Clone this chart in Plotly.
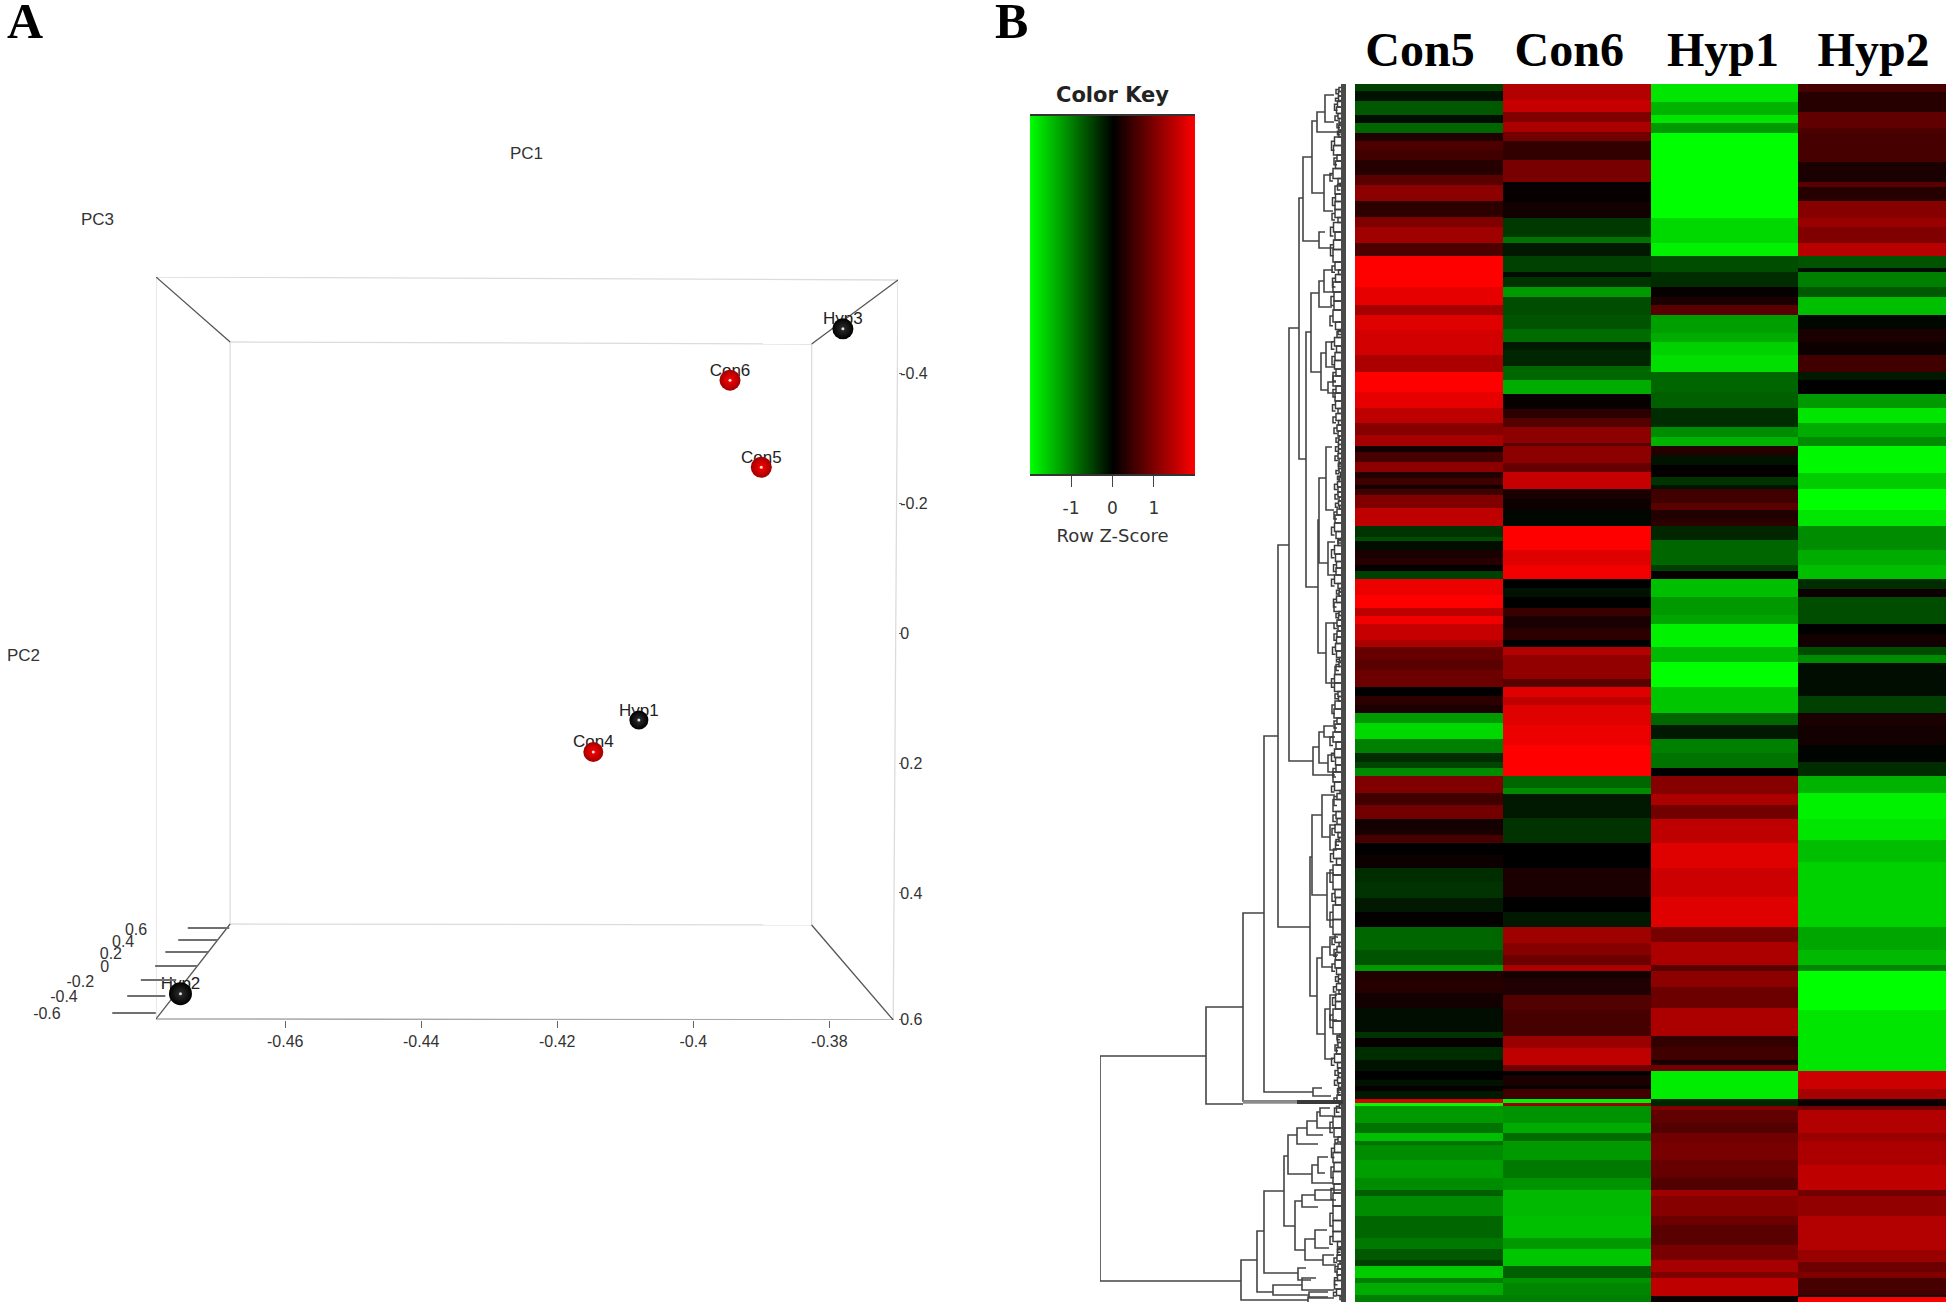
import bisect
import plotly.graph_objects as go

W, H = 1946, 1305

# ---------- Panel A: PCA ----------
sample_names = ["Hyp3", "Con6", "Con5", "Hyp1", "Con4", "Hyp2"]
pc1_values = [-0.378, -0.3946, -0.390, -0.408, -0.4147, -0.4754]
pc2_values = [-0.468, -0.389, -0.255, 0.134, 0.183, 0.555]
sample_rims = ["#000000", "#a00000", "#a00000", "#000000", "#a00000", "#000000"]
sample_glows = ["#303030", "#ff0000", "#ff0000", "#303030", "#ff0000", "#303030"]
sample_sizes = [21, 21, 21, 19, 20, 23]

pc1_ticks = [-0.46, -0.44, -0.42, -0.4, -0.38]
pc1_ticktext = ["-0.46", "-0.44", "-0.42", "-0.4", "-0.38"]
pc2_ticks = [-0.4, -0.2, 0, 0.2, 0.4, 0.595]
pc2_ticktext = ["-0.4", "-0.2", "0", "0.2", "0.4", "0.6"]
pc3_ticktext = ["-0.6", "-0.4", "-0.2", "0", "0.2", "0.4", "0.6"]
pc3_tick_start = [-.4854, -.4832, -.4812, -.4791, -.4776, -.4757, -.4743]
pc3_tick_end = [-.4790, -.4776, -.4760, -.4729, -.4713, -.4699, -.4682]
pc3_tick_y = [.5846, .5585, .5338, .5123, .4908, .4723, .4538]
pc3_label_x = [-.495, -.4925, -.4901, -.4865, -.4856, -.4838, -.4819]
pc3_label_y = [.5877, .5615, .5385, .5154, .4954, .4769, .4585]

# box corners in PC1 / PC2 units
out_l, out_r_top, out_r_bot = -.4790, -.3699, -.3706
in_l, in_r = -.4681, -.3826
out_top_l, out_top_r, in_top_l, in_top_r = -.5477, -.5431, -.4477, -.4446
in_bot_l, in_bot_r, out_bot_l, out_bot_r = .4477, .4492, .5938, .5954

# ---------- Panel B: heatmap, each column as (band end, z) ----------
columns = ["Con5", "Con6", "Hyp1", "Hyp2"]
column_ticks = [0.44, 1.45, 2.49, 3.51]
row_start = 84

con5_end = [91,101,115,123,133,141,150,160,175,185,201,217,227,243,256,287,305,315,330,355,372,392,408,423,435,446,
            452,462,472,478,485,489,495,508,526,537,541,550,558,565,571,579,595,608,616,624,640,647,660,670,687,696,
            705,713,723,739,753,762,768,776,793,805,819,830,835,843,855,868,882,898,912,927,950,965,971,980,993,1008,
            1032,1038,1047,1060,1071,1080,1086,1091,1099,1103,1106,1123,1133,1141,1145,1160,1178,1190,1196,1216,1238,
            1249,1260,1266,1278,1283,1295,1302]
con5_z = [-.5,-.15,-.7,-.1,-.8,.25,.6,.5,.3,.7,1.1,.35,1.0,1.25,.6,2.0,1.8,1.3,1.75,1.65,1.35,2.0,1.8,1.5,1.05,1.3,
          .15,.55,1.1,.25,.5,.15,.5,1.0,1.5,-.4,-.6,-.1,.2,.3,.05,-.5,1.85,2.0,1.5,1.9,1.55,1.35,.8,.7,.85,0,
          .35,.2,-1.2,-1.7,-1.0,-.35,-.55,-1.1,1.0,.5,.9,.15,.2,.55,0,.1,-.35,-.4,-.2,.02,-.8,-.65,-1.2,.25,.3,.15,
          -.1,-.4,.05,-.35,-.15,0,-.15,.05,-.2,1.7,-2.0,-1.2,-.9,-1.5,-.9,-1.1,-1.25,-1.1,-.75,-1.1,-.8,
          -.95,-.7,-.5,-1.6,-1.0,-1.35,-1.0]

con6_end = [100,112,122,132,141,160,182,202,218,237,243,256,272,277,287,297,315,329,342,350,366,380,394,409,418,427,
            443,446,463,472,489,499,510,526,550,565,579,588,597,608,616,628,640,647,655,679,687,697,705,725,745,776,
            788,794,805,818,843,868,897,912,927,943,955,965,971,978,995,1010,1036,1048,1065,1071,1075,1086,1089,1099,
            1103,1106,1123,1133,1141,1160,1178,1190,1216,1238,1249,1266,1278,1283,1295,1302]
con6_z = [1.4,1.55,1.0,1.35,.9,.4,.95,.05,.15,-.45,-.9,-.2,-.5,-.1,-.4,-1.2,-.6,-.65,-.85,-.2,-.3,-.8,-1.35,.05,.35,.65,
          1.1,.7,1.1,.8,1.55,.2,.1,-.05,2.0,1.75,1.9,0,-.15,0,.45,.2,.35,0,1.4,1.15,.7,1.75,1.5,1.75,1.85,2.0,
          -.8,-1.1,-.2,-.2,-.4,0,.2,0,-.2,1.25,1.05,.85,1.35,.15,.25,.65,.55,1.2,1.5,.9,0,.2,.05,.5,
          -1.9,1.2,-1.15,-1.35,-.85,-1.2,-.95,-1.15,-1.45,-1.5,-1.2,-1.55,-.75,-1.15,-1.05,-1.0]

hyp1_end = [102,115,123,133,218,243,256,272,287,297,305,315,333,342,355,372,392,408,427,437,446,
            455,465,477,485,489,503,510,520,526,540,565,571,579,597,615,624,647,662,687,713,725,739,753,768,776,
            794,805,819,843,868,897,927,942,965,971,987,1008,1036,1047,1060,1065,1071,1099,1106,1110,1123,1133,1143,
            1160,1178,1190,1196,1216,1225,1245,1260,1272,1278,1296,1302]
hyp1_z = [-1.8,-1.4,-1.8,-1.2,-2.0,-1.7,-1.9,-.6,-.35,.05,.2,.7,-1.25,-1.35,-1.65,-1.75,-.8,-.75,-.35,-1.1,-1.4,
          .3,-.15,.03,-.4,-.15,.5,.7,.25,.35,-.3,-.8,-.5,.05,-1.5,-1.2,-1.3,-1.9,-1.45,-2.0,-1.55,-.8,-.2,-1.0,-.9,0,
          1.05,1.35,.9,1.5,1.75,1.6,1.75,.95,1.35,.7,1.1,.85,1.35,.4,.5,.2,.9,-1.85,-.3,1.0,.75,.65,.9,
          .95,.8,.65,1.25,1.05,.85,.7,.95,1.3,1.0,1.5,.1]

hyp2_end = [92,112,128,133,162,182,187,201,218,227,243,256,268,272,287,297,315,329,342,355,372,380,394,408,423,437,446,
            473,489,510,526,550,565,579,589,597,624,634,647,655,663,696,713,725,745,762,776,793,819,840,862,927,950,
            965,971,1010,1071,1089,1099,1106,1110,1133,1141,1165,1190,1196,1216,1250,1262,1272,1278,1295,1297,1302]
hyp2_z = [.55,.3,.75,.6,.55,.2,.7,.3,1.05,1.2,1.0,1.45,-.65,-.1,-1.0,-.7,-1.5,-.05,.2,.1,.5,-.2,0,-1.2,-1.8,-1.35,-1.1,
          -1.95,-1.6,-2.0,-1.8,-1.1,-1.35,-1.5,-.35,.1,-.6,0,.15,-.6,-1.1,-.1,-.5,.2,.15,-.03,-.35,-1.4,-1.9,-1.8,-1.5,-1.65,-1.3,
          -1.45,-1.05,-2.0,-1.8,1.6,1.3,.1,.9,1.4,1.2,1.35,1.5,.9,1.15,1.4,1.2,.85,1.0,.55,.1,2.0]

# ---------- Colour key ----------
key_levels = [-2, -1.75, -1.5, -1.25, -1, -.75, -.5, -.25, 0, .25, .5, .75, 1, 1.25, 1.5, 1.75, 2]
key_ticks = [-1, 0, 1]
key_ticktext = ["-1", "0", "1"]

# ---------- Dendrogram: merge height, top row, top child height, bottom row, bottom child height ----------
merge_height = [246,140,103,82,68,57,47,43,34,29,21,22,27,40,35,27,22,25,20,18,28,27,20,18,20,33,27,22,18,
                36,34,24,16,19,29,24,21,16,16,33,105,89,82,62,58,49,39,29,26,34,28,51,44,31,41,31,23,48,73,44,37,38]
merge_top_row = [1056,1007,913,736,545,328,198,157,121,112,95,175,232,332,293,281,270,353,342,382,520,478,447,542,623,
                 747,732,726,755,857,815,795,825,873,958,947,1009,995,937,1088,1260,1231,1191,1156,1135,1128,1121,
                 1112,1108,1165,1157,1201,1195,1190,1239,1230,1255,1268,1285,1278,1292,1297]
merge_top_child = [140,103,82,68,57,47,43,34,29,21,12,14,21,35,27,22,13,20,13,10,27,20,14,11,12,
                   27,22,13,12,34,24,11,10,12,24,16,16,9,8,24,89,82,62,58,49,39,29,26,16,28,18,44,31,3,31,19,12,40,44,30,18,18]
merge_bot_row = [1281,1104,1101,1092,927,761,459,241,193,132,122,211,248,587,372,307,292,390,367,393,653,563,510,575,683,
                 775,763,737,772,996,895,837,850,920,1034,967,1059,1020,955,1096,1300,1292,1273,1226,1174,1144,1135,
                 1128,1116,1183,1173,1250,1207,1200,1260,1248,1265,1280,1295,1290,1298,1303]
merge_bot_child = [105,103,49,33,36,33,40,27,22,9,12,13,13,28,25,14,11,18,11,9,20,18,12,11,12,
                   11,18,11,10,29,19,16,9,12,21,13,13,9,8,15,38,73,48,51,34,28,23,13,13,13,21,41,28,10,23,17,10,35,37,12,12,5]


def px(x):
    return x / W


def py(y):
    return 1 - y / H


fig = go.Figure()

# ---- Panel A traces ----
frame_light = dict(
    x=[out_l, out_r_top, None, in_l, in_r, None, out_l, out_l, None, in_l, in_l, None, in_r, in_r, None,
       out_r_top, out_r_bot, None, in_l, in_r],
    y=[out_top_l, out_top_r, None, in_top_l, in_top_r, None, out_top_l, out_bot_l, None, in_top_l, in_bot_l, None,
       in_top_r, in_bot_r, None, out_top_r, out_bot_r, None, in_bot_l, in_bot_r],
)
fig.add_trace(go.Scatter(**frame_light, mode="lines", line=dict(color="#dcdcdc", width=1.3), hoverinfo="skip",
                         showlegend=False, xaxis="x", yaxis="y"))
fig.add_trace(go.Scatter(x=[out_l, out_r_bot], y=[out_bot_l, out_bot_r], mode="lines",
                         line=dict(color="#a8a8a8", width=1.5), hoverinfo="skip", showlegend=False))
diagonals_x = [out_l, in_l, None, out_r_top, in_r, None, in_l, out_l, None, in_r, out_r_bot]
diagonals_y = [out_top_l, in_top_l, None, out_top_r, in_top_r, None, in_bot_l, out_bot_l, None, in_bot_r, out_bot_r]
fig.add_trace(go.Scatter(x=diagonals_x, y=diagonals_y, mode="lines", line=dict(color="#555555", width=1.3),
                         hoverinfo="skip", showlegend=False))
label_lift = 0.0135
fig.add_trace(go.Scatter(x=pc1_values, y=[v - label_lift for v in pc2_values], mode="text", text=sample_names,
                         cliponaxis=False, textfont=dict(family="Liberation Sans", size=17, color="#222222"),
                         hoverinfo="skip", showlegend=False))
fig.add_trace(go.Scatter(x=pc1_values, y=pc2_values, mode="markers", cliponaxis=False, showlegend=False,
                         marker=dict(size=sample_sizes, color=sample_rims, opacity=1,
                                     gradient=dict(type="radial", color=sample_glows), line=dict(width=0))))
fig.add_trace(go.Scatter(x=pc1_values, y=pc2_values, mode="markers", cliponaxis=False, showlegend=False,
                         hoverinfo="skip", marker=dict(size=3, color="#e0e0e0", line=dict(width=0))))

# PC3 depth axis on its own wider axes, in the same PC1 / PC2 units
tx, ty = [], []
for a, b, c in zip(pc3_tick_start, pc3_tick_end, pc3_tick_y):
    tx += [a, b, None]
    ty += [c, c, None]
fig.add_trace(go.Scatter(x=tx, y=ty, mode="lines", line=dict(color="#707070", width=2), hoverinfo="skip",
                         showlegend=False, xaxis="x5", yaxis="y5"))
fig.add_trace(go.Scatter(x=pc3_label_x, y=pc3_label_y, mode="text", text=pc3_ticktext,
                         textfont=dict(family="Liberation Sans", size=16, color="#333333"), hoverinfo="skip",
                         showlegend=False, xaxis="x5", yaxis="y5"))

# ---- Heatmap ----
col_ends = [con5_end, con6_end, hyp1_end, hyp2_end]
col_vals = [con5_z, con6_z, hyp1_z, hyp2_z]
row_edges = sorted({row_start, *con5_end, *con6_end, *hyp1_end, *hyp2_end})
matrix = []
for top, bot in zip(row_edges[:-1], row_edges[1:]):
    mid = (top + bot) / 2
    matrix.append([vals[min(bisect.bisect_left(ends, mid), len(vals) - 1)]
                   for ends, vals in zip(col_ends, col_vals)])
red_green = [[0, "#00ff00"], [0.5, "#000000"], [1, "#ff0000"]]
fig.add_trace(go.Heatmap(z=matrix, x=[0, 1, 2, 3, 4], y=row_edges, colorscale=red_green, zmin=-2, zmax=2,
                         showscale=False, xaxis="x2", yaxis="y2"))

# ---- Dendrogram ----
dx, dy = [], []
for d, y1, c1, y2, c2 in zip(merge_height, merge_top_row, merge_top_child, merge_bot_row, merge_bot_child):
    dx += [c1, d, d, c2, None]
    dy += [y1, y1, y2, y2, None]
fig.add_trace(go.Scatter(x=dx, y=dy, mode="lines", line=dict(color="#444444", width=1.6), hoverinfo="skip",
                         showlegend=False, cliponaxis=False, xaxis="x3", yaxis="y2"))
# fine leaf branches follow the band edges of the heatmap rows
lx, ly = [], []
centres = [(a + b) / 2 for a, b in zip(row_edges[:-1], row_edges[1:])]
for i, (a, b) in enumerate(zip(centres[:-1], centres[1:])):
    h = min(13, 3 + (b - a))
    lx += [0, h, h, 0, None]
    ly += [a, a, b, b, None]
    if i % 2 == 0 and i + 2 < len(centres):
        lx += [h, h + 3, h + 3, h, None]
        ly += [(a + b) / 2, (a + b) / 2, (centres[i + 2] + b) / 2, (centres[i + 2] + b) / 2, None]
fig.add_trace(go.Scatter(x=lx, y=ly, mode="lines", line=dict(color="#3c3c3c", width=1.5), hoverinfo="skip",
                         showlegend=False, xaxis="x3", yaxis="y2"))
fig.add_trace(go.Scatter(x=[2, 2], y=[row_start, row_edges[-1]], mode="lines", line=dict(color="#4a4a4a", width=6),
                         hoverinfo="skip", showlegend=False, xaxis="x3", yaxis="y2"))
# the small outlying branch: wide grey and dark band
fig.add_trace(go.Scatter(x=[103, 49], y=[1102, 1102], mode="lines", line=dict(color="#8c8c8c", width=3.5),
                         hoverinfo="skip", showlegend=False, xaxis="x3", yaxis="y2"))
fig.add_trace(go.Scatter(x=[49, 3], y=[1102, 1102], mode="lines", line=dict(color="#3a3a3a", width=4),
                         hoverinfo="skip", showlegend=False, xaxis="x3", yaxis="y2"))

# ---- Colour key ----
fig.add_trace(go.Heatmap(z=[key_levels], x=key_levels, y=[0], colorscale=red_green, zmin=-2, zmax=2, showscale=False,
                         zsmooth="best", hoverinfo="skip", xaxis="x4", yaxis="y4"))

pc1_font = dict(family="Liberation Sans", size=16, color="#333333")
fig.update_layout(
    width=W, height=H, margin=dict(l=0, r=0, t=0, b=0, autoexpand=False), paper_bgcolor="white",
    plot_bgcolor="rgba(0,0,0,0)", showlegend=False,
    xaxis=dict(domain=[px(156), px(898)], range=[out_l, out_r_top], tickmode="array", tickvals=pc1_ticks,
               ticktext=pc1_ticktext, ticks="outside", ticklen=7, tickcolor="#666666", showgrid=False,
               zeroline=False, showline=False, tickfont=pc1_font, anchor="y"),
    yaxis=dict(domain=[py(1020), py(277)], range=[out_bot_r, out_top_l], side="right", tickmode="array",
               tickvals=pc2_ticks, ticktext=pc2_ticktext, ticks="outside", ticklen=3, tickcolor="#666666",
               showgrid=False, zeroline=False, showline=False, tickfont=pc1_font, anchor="x", ticklabelstandoff=-5),
    xaxis2=dict(domain=[px(1355), 1], range=[0, 4], side="top", tickmode="array", tickvals=column_ticks,
                ticktext=columns, ticks="", showgrid=False, zeroline=False, showline=False, anchor="y2",
                ticklabelstandoff=7,
                tickfont=dict(family="Liberation Serif", size=48, color="#000000", weight="bold")),
    yaxis2=dict(domain=[py(1302), py(84)], range=[row_edges[-1], row_start], visible=False, anchor="x2"),
    xaxis3=dict(domain=[px(1100), px(1346)], range=[246, 0], visible=False, anchor="y2"),
    xaxis4=dict(domain=[px(1030), px(1195)], range=[-1.99, 1.99], tickmode="array", tickvals=key_ticks,
                ticktext=key_ticktext, ticks="outside", ticklen=11, tickcolor="#444444", showgrid=False,
                zeroline=False, showline=True, linecolor="#333333", linewidth=2, mirror=True, anchor="y4",
                ticklabelstandoff=7,
                tickfont=dict(family="DejaVu Sans", size=17, color="#333333"),
                title=dict(text="Row Z-Score", standoff=12, font=dict(family="DejaVu Sans", size=18, color="#333333"))),
    yaxis4=dict(domain=[py(474), py(116)], range=[-0.5, 0.5], visible=False, anchor="x4"),
    xaxis5=dict(domain=[0, px(300)], range=[-.5019, -.4578], visible=False, anchor="y5"),
    yaxis5=dict(domain=[py(1020), py(277)], range=[out_bot_r, out_top_l], visible=False, anchor="x5"),
)


def note(text, x, y, size, family="Liberation Sans", color="#333333", weight="normal"):
    fig.add_annotation(text=text, x=px(x), y=py(y), xref="paper", yref="paper", showarrow=False, xanchor="center",
                       yanchor="middle", font=dict(family=family, size=size, color=color, weight=weight))


note("A", 25, 21, 50, "Liberation Serif", "#000000", "bold")
note("B", 1011, 21, 50, "Liberation Serif", "#000000", "bold")
note("PC1", 526, 153, 17)
note("PC3", 97, 219, 17)
note("PC2", 23, 655, 17)
note("Color Key", 1112, 95, 21, "DejaVu Sans", "#222222", "bold")

fig.write_html("out.html", config=dict(displayModeBar=False),
               post_script="document.body.style.margin='0';document.body.style.overflow='hidden';")
